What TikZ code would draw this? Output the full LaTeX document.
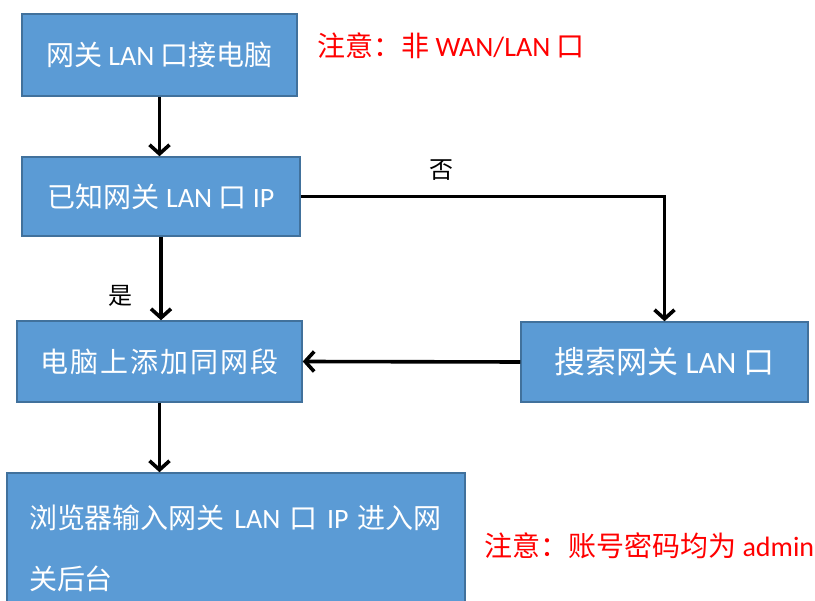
\documentclass[tikz,border=0pt]{standalone}
\usepackage{fontspec}
\setmainfont{Carlito}
\newfontfamily\cjk{Noto Sans CJK SC}
\usetikzlibrary{arrows.meta}
\newcommand{\zh}[1]{{\cjk #1}}
\definecolor{boxfill}{HTML}{5B9BD5}
\definecolor{boxline}{HTML}{41719C}
\definecolor{notered}{HTML}{FF0000}
\begin{document}
\begin{tikzpicture}[x=1pt,y=1pt,
  box/.style={draw=boxline, line width=1.5pt, fill=boxfill, text=white,
    inner sep=0pt, font=\fontsize{28}{32}\selectfont},
  note/.style={text=notered, inner sep=0pt, font=\fontsize{28}{32}\selectfont},
  lab/.style={text=black, inner sep=0pt, font=\fontsize{24}{28}\selectfont},
  conn/.style={line width=3.6pt, -{Straight Barb[length=9pt,width=20pt,line width=3.6pt]}}]
\useasboundingbox (0,0) rectangle (815,-601);
\node[box, minimum width=275, minimum height=82] (b1) at (159.5,-55) {\zh{网关} LAN \zh{口接电脑}};
\node[box, minimum width=278, minimum height=79] (b2) at (161,-196.5) {\zh{已知网关} LAN \zh{口} IP};
\node[box, minimum width=285, minimum height=81] (b3) at (159.5,-361.5) {\zh{电\kern2pt 脑\kern2pt 上\kern2pt 添\kern2pt 加\kern2pt 同\kern2pt 网\kern2pt 段}};
\node[box, minimum width=287, minimum height=80, font=\fontsize{31}{36}\selectfont] (b4) at (664.5,-362) {\zh{搜索网关} LAN \zh{口}};
\node[box, minimum width=458, minimum height=150, align=left, text width=414,
  font=\fontsize{28}{61}\selectfont] (b5) at (236,-548) {\zh{浏览器输入网关} LAN \zh{口} IP \zh{进入网}\\\zh{关后台}};
\node[note, anchor=west] (n1) at (317,-46) {\zh{注意：非} WAN/LAN \zh{口}};
\node[note, anchor=west] (n2) at (484,-546) {\zh{注意：账号密码均为} admin};
\node[lab] (no) at (441,-170) {\zh{否}};
\node[lab] (yes) at (120,-296) {\zh{是}};
\draw[conn] (b1.south) -- (b1.south |- b2.north);
\draw[conn] (b2.south) -- (b2.south |- b3.north);
\draw[conn] (b2.east) -| (b4.north);
\draw[conn] (b4.west) -- (b3.east);
\draw[conn] (b3.south) -- (b3.south |- b5.north);
\end{tikzpicture}
\end{document}
